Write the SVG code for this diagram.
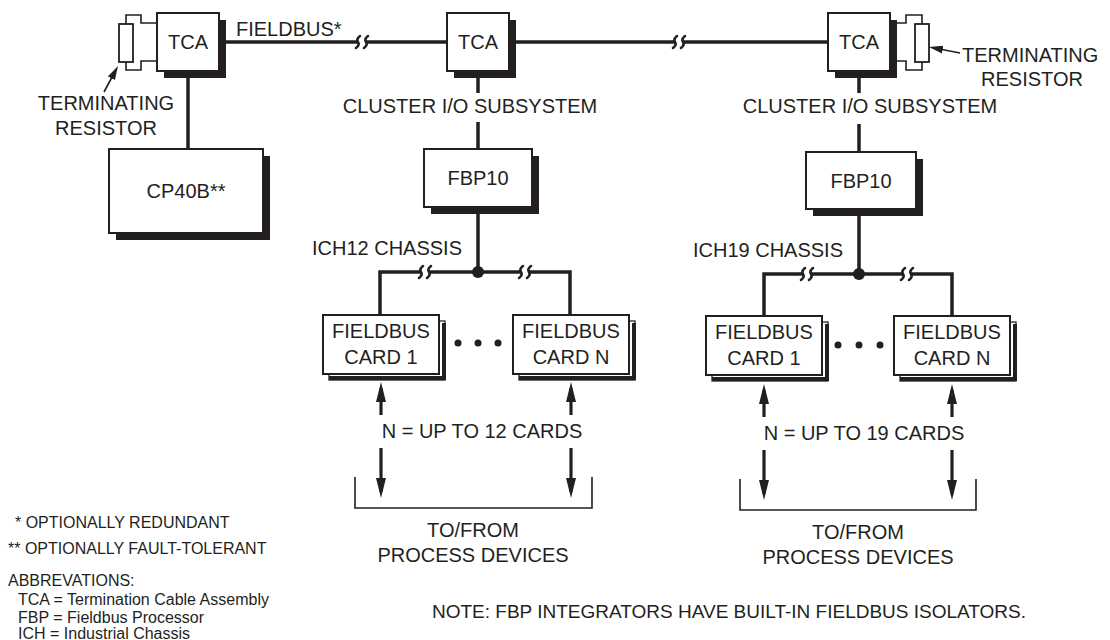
<svg xmlns="http://www.w3.org/2000/svg" width="1110" height="640" viewBox="0 0 1110 640">
<defs>
<style>
text{font-family:"Liberation Sans",Arial,Helvetica,sans-serif;fill:#231f20}
.l{font-size:20px}
.m{text-anchor:middle}
.e{text-anchor:end}
.s{font-size:16px}
.n{font-size:19px}
.box{fill:#fff;stroke:#231f20;stroke-width:2}
.back{fill:#fff;stroke:#231f20;stroke-width:1.3}
.sh{fill:#231f20}
.thk{fill:none;stroke:#231f20;stroke-width:4}
.w{fill:none;stroke:#231f20;stroke-width:3.5}
.t{fill:none;stroke:#231f20;stroke-width:1.6}
.res{fill:#fff;stroke:#231f20;stroke-width:1.8}
.brk{fill:none;stroke:#231f20;stroke-width:2.6;stroke-linecap:round}
.ar{fill:none;stroke:#231f20;stroke-width:3.2}
.dot{fill:#231f20}
</style>
<marker id="big" viewBox="0 0 20 10" refX="14" refY="5" markerWidth="20" markerHeight="10" markerUnits="userSpaceOnUse" orient="auto">
<path d="M0,0 L20,5 L0,10 z" fill="#231f20"/>
</marker>
<marker id="sm" viewBox="0 0 14 8" refX="10" refY="4" markerWidth="14" markerHeight="8" markerUnits="userSpaceOnUse" orient="auto">
<path d="M0,0 L14,4 L0,8 z" fill="#231f20"/>
</marker>
</defs>

<g id="connectors">
<!-- top fieldbus -->
<path class="w" d="M219,42 H358 M366,42 H447 M509,42 H675 M683,42 H828"/>
<path class="brk" d="M360,36 Q356,39 358,42 Q360,45 356,48 M368,36 Q364,39 366,42 Q368,45 364,48"/>
<path class="brk" d="M677,36 Q673,39 675,42 Q677,45 673,48 M685,36 Q681,39 683,42 Q685,45 681,48"/>
<!-- left drop -->
<path class="w" d="M188,71 V149"/>
<!-- column drops -->
<path class="w" d="M478,71 V93 M478,122 V149 M478,207 V272"/>
<path class="w" d="M859,71 V93 M859,124 V152 M859,209 V274"/>
<!-- middle branch -->
<path class="w" d="M380,315 V272 H421 M429,272 H521 M529,272 H570 V315"/>
<path class="brk" d="M423,266 Q419,269 421,272 Q423,275 419,278 M431,266 Q427,269 429,272 Q431,275 427,278"/>
<path class="brk" d="M523,266 Q519,269 521,272 Q523,275 519,278 M531,266 Q527,269 529,272 Q531,275 527,278"/>
<circle class="dot" cx="478" cy="272" r="6"/>
<!-- right branch -->
<path class="w" d="M764,316 V274 H803 M811,274 H903 M911,274 H952 V316"/>
<path class="brk" d="M805,268 Q801,271 803,274 Q805,277 801,280 M813,268 Q809,271 811,274 Q813,277 809,280"/>
<path class="brk" d="M905,268 Q901,271 903,274 Q905,277 901,280 M913,268 Q909,271 911,274 Q913,277 909,280"/>
<circle class="dot" cx="859" cy="274" r="6"/>
<!-- arrows middle -->
<line class="ar" x1="381" y1="415" x2="381" y2="388" marker-end="url(#big)"/>
<line class="ar" x1="381" y1="448" x2="381" y2="492" marker-end="url(#big)"/>
<line class="ar" x1="571" y1="415" x2="571" y2="388" marker-end="url(#big)"/>
<line class="ar" x1="571" y1="448" x2="571" y2="492" marker-end="url(#big)"/>
<!-- arrows right -->
<line class="ar" x1="764" y1="417" x2="764" y2="390" marker-end="url(#big)"/>
<line class="ar" x1="764" y1="450" x2="764" y2="494" marker-end="url(#big)"/>
<line class="ar" x1="952" y1="417" x2="952" y2="390" marker-end="url(#big)"/>
<line class="ar" x1="952" y1="450" x2="952" y2="494" marker-end="url(#big)"/>
<!-- brackets -->
<path class="t" d="M355,477 V508 H592 V477"/>
<path class="t" d="M740,479 V510 H976 V479"/>
<!-- terminating resistor pointers -->
<line class="t" x1="104" y1="92" x2="116.1" y2="69.5" marker-end="url(#sm)"/>
<line class="t" x1="960" y1="53" x2="932.9" y2="47.8" marker-end="url(#sm)"/>
</g>

<g id="term-left">
<path class="t" d="M157,23 H141 V15 H126 V24 M126,62 V70 H141 V61 H157"/>
<rect class="res" x="119" y="24" width="14" height="38"/>
</g>
<g id="term-right">
<path class="t" d="M897,23 H906 V15 H922 V24 M922,62 V70 H906 V61 H897"/>
<rect class="res" x="915" y="24" width="14" height="38"/>
</g>

<g id="tca-left">
<rect class="sh" x="164" y="20" width="62" height="58"/>
<rect class="box" x="157" y="13" width="62" height="58"/>
<text class="l m" x="188" y="49">TCA</text>
</g>
<g id="tca-mid">
<rect class="sh" x="454" y="20" width="62" height="58"/>
<rect class="box" x="447" y="13" width="62" height="58"/>
<text class="l m" x="478" y="49">TCA</text>
</g>
<g id="tca-right">
<rect class="sh" x="835" y="20" width="62" height="58"/>
<rect class="box" x="828" y="13" width="62" height="58"/>
<text class="l m" x="859" y="49">TCA</text>
</g>

<g id="cp40b">
<rect class="sh" x="116" y="156" width="154" height="84"/>
<rect class="box" x="109" y="149" width="154" height="84"/>
<text class="l m" x="186" y="198">CP40B**</text>
</g>

<g id="fbp10-mid">
<rect class="sh" x="431" y="156" width="108" height="58"/>
<rect class="box" x="424" y="149" width="108" height="58"/>
<text class="l m" x="478" y="185">FBP10</text>
</g>
<g id="fbp10-right">
<rect class="sh" x="813" y="159" width="110" height="57"/>
<rect class="box" x="806" y="152" width="110" height="57"/>
<text class="l m" x="861" y="188">FBP10</text>
</g>

<g id="card-mid-1">
<rect class="back" x="329" y="321" width="116" height="59"/>
<path class="thk" d="M444,323 V378 H329"/>
<rect class="box" x="323" y="315" width="116" height="59"/>
<text class="l m" x="381" y="338">FIELDBUS</text>
<text class="l m" x="381" y="364">CARD 1</text>
</g>
<g id="card-mid-n">
<rect class="back" x="519" y="321" width="116" height="59"/>
<path class="thk" d="M634,323 V378 H519"/>
<rect class="box" x="513" y="315" width="116" height="59"/>
<text class="l m" x="571" y="338">FIELDBUS</text>
<text class="l m" x="571" y="364">CARD N</text>
</g>
<g id="card-right-1">
<rect class="back" x="712" y="322" width="116" height="59"/>
<path class="thk" d="M827,324 V379 H712"/>
<rect class="box" x="706" y="316" width="116" height="59"/>
<text class="l m" x="764" y="339">FIELDBUS</text>
<text class="l m" x="764" y="365">CARD 1</text>
</g>
<g id="card-right-n">
<rect class="back" x="900" y="322" width="116" height="59"/>
<path class="thk" d="M1015,324 V379 H900"/>
<rect class="box" x="894" y="316" width="116" height="59"/>
<text class="l m" x="952" y="339">FIELDBUS</text>
<text class="l m" x="952" y="365">CARD N</text>
</g>

<g id="ellipsis-mid">
<circle class="dot" cx="458" cy="343" r="3.5"/>
<circle class="dot" cx="478" cy="343" r="3.5"/>
<circle class="dot" cx="498" cy="343" r="3.5"/>
</g>
<g id="ellipsis-right">
<circle class="dot" cx="838" cy="345" r="3.5"/>
<circle class="dot" cx="859" cy="345" r="3.5"/>
<circle class="dot" cx="880" cy="345" r="3.5"/>
</g>

<g id="labels">
<text class="l" x="236" y="36">FIELDBUS*</text>
<text class="l m" x="106" y="110">TERMINATING</text>
<text class="l m" x="106" y="135">RESISTOR</text>
<text class="l" x="962" y="62">TERMINATING</text>
<text class="l m" x="1032" y="86">RESISTOR</text>
<text class="l m" x="470" y="113">CLUSTER I/O SUBSYSTEM</text>
<text class="l m" x="870" y="113">CLUSTER I/O SUBSYSTEM</text>
<text class="l e" x="462" y="255">ICH12 CHASSIS</text>
<text class="l e" x="843" y="257">ICH19 CHASSIS</text>
<text class="l m" x="482" y="438">N = UP TO 12 CARDS</text>
<text class="l m" x="864" y="440">N = UP TO 19 CARDS</text>
<text class="l m" x="473" y="537">TO/FROM</text>
<text class="l m" x="473" y="562">PROCESS DEVICES</text>
<text class="l m" x="858" y="539">TO/FROM</text>
<text class="l m" x="858" y="564">PROCESS DEVICES</text>
<text class="s" x="15" y="528">* OPTIONALLY REDUNDANT</text>
<text class="s" x="8" y="554">** OPTIONALLY FAULT-TOLERANT</text>
<text class="s" x="8" y="586">ABBREVATIONS:</text>
<text class="s" x="18" y="605">TCA = Termination Cable Assembly</text>
<text class="s" x="18" y="623">FBP = Fieldbus Processor</text>
<text class="s" x="18" y="639">ICH = Industrial Chassis</text>
<text class="n" x="432" y="618">NOTE: FBP INTEGRATORS HAVE BUILT-IN FIELDBUS ISOLATORS.</text>
</g>
</svg>
